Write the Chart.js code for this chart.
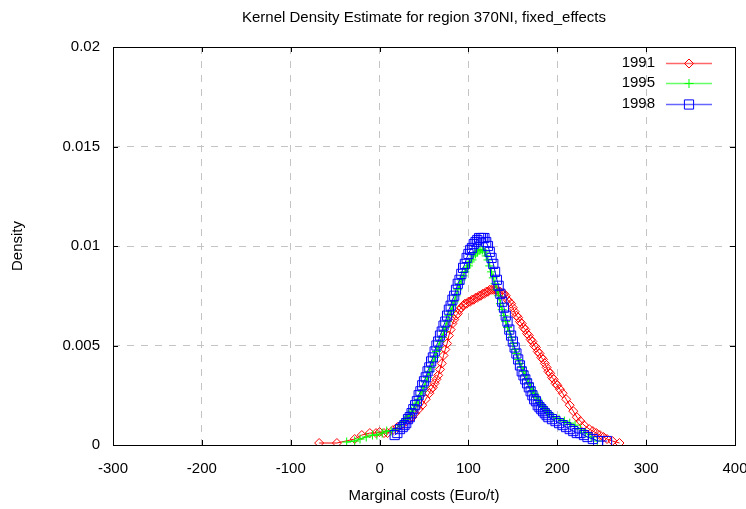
<!DOCTYPE html>
<html>
<head>
<meta charset="utf-8">
<script src="https://cdn.jsdelivr.net/npm/chart.js@4.4.1/dist/chart.umd.min.js"></script>
<style>
  html, body { margin: 0; padding: 0; background: #fff; }
  #wrap { width: 746px; height: 509px; }
</style>
</head>
<body>
<div id="wrap"><canvas id="kde"></canvas></div>
<script>
// KDE values
const years = ["1991", "1995", "1998"];

const x1991 = [-68, -48, -28, -20, -11, -4, 0, 5, 9, 15, 20, 25, 30, 34, 37, 40, 44, 48, 52, 56,
  58, 60, 62, 64, 66, 68, 70, 72, 74, 76, 78, 80, 82, 84, 86, 88, 90, 92, 94, 96,
  98, 100, 102, 104, 106, 108, 110, 112, 114, 116, 118, 120, 122, 124, 126, 128, 130, 132, 134, 136,
  138, 140, 142, 144, 146, 148, 150, 152, 154, 156, 158, 160, 162, 164, 166, 168, 170, 172, 174, 176,
  178, 180, 182, 184, 186, 188, 190, 192, 194, 196, 198, 200, 203, 206, 210, 214, 218, 222, 226, 230,
  236, 240, 244, 248, 252, 256, 262, 270];
const y1991 = [0.0001, 0.0001, 0.0003, 0.0005, 0.0006, 0.0006, 0.00065, 0.0006, 0.0006, 0.00075,
  0.0009, 0.0010, 0.0012, 0.0013, 0.0014, 0.0016, 0.0018, 0.0020, 0.0023, 0.0026,
  0.0028, 0.0029, 0.0031, 0.0033, 0.0035, 0.0038, 0.0041, 0.0045, 0.0048, 0.0051,
  0.0055, 0.0058, 0.0061, 0.0063, 0.0065, 0.0066, 0.0068, 0.0069, 0.0070, 0.0071,
  0.0071, 0.0072, 0.0072, 0.0073, 0.0073, 0.0074, 0.0074, 0.0075, 0.0075, 0.0076,
  0.0076, 0.0077, 0.0077, 0.0078, 0.0078, 0.0078, 0.0078, 0.0078, 0.0077, 0.0077,
  0.0076, 0.0076, 0.0075, 0.0073, 0.0072, 0.0071, 0.0069, 0.0067, 0.0065, 0.0064,
  0.0062, 0.0061, 0.0059, 0.0058, 0.0056, 0.0055, 0.0053, 0.0052, 0.0050, 0.0049,
  0.0047, 0.0046, 0.0044, 0.0043, 0.0041, 0.0039, 0.0037, 0.0036, 0.0034, 0.0033,
  0.0031, 0.0030, 0.0028, 0.0026, 0.0023, 0.0020, 0.0017, 0.0014, 0.0012, 0.0010,
  0.0008, 0.0007, 0.0006, 0.0005, 0.0004, 0.0003, 0.0002, 0.0001];

const x1995 = [-37, -28, -22, -15, -8, -3, 3, 8, 13, 18, 23, 28, 30, 32, 34, 36, 38, 40, 42, 44,
  46, 48, 50, 52, 54, 56, 58, 60, 62, 64, 66, 68, 70, 72, 74, 76, 78, 80, 82, 84,
  86, 88, 90, 92, 94, 96, 98, 100, 102, 104, 106, 108, 110, 112, 114, 116, 118, 120, 122, 124,
  126, 128, 130, 132, 134, 136, 138, 140, 142, 144, 146, 148, 150, 152, 154, 156, 158, 160, 162, 164,
  166, 168, 170, 172, 174, 176, 178, 180, 182, 184, 186, 188, 190, 196, 202, 208, 214, 220, 226, 232,
  238, 245];
const y1995 = [0.00015, 0.0002, 0.0003, 0.0004, 0.0005, 0.0005, 0.0006, 0.0007, 0.0007, 0.0008,
  0.0010, 0.0012, 0.0013, 0.0014, 0.0015, 0.0017, 0.0018, 0.0020, 0.0021, 0.0023,
  0.0025, 0.0027, 0.0029, 0.0032, 0.0034, 0.0037, 0.0039, 0.0042, 0.0044, 0.0047,
  0.0049, 0.0052, 0.0054, 0.0057, 0.0059, 0.0062, 0.0065, 0.0067, 0.0070, 0.0072,
  0.0075, 0.0078, 0.0081, 0.0083, 0.0085, 0.0087, 0.0089, 0.0090, 0.0092, 0.0093,
  0.0095, 0.0096, 0.0097, 0.0098, 0.0098, 0.0098, 0.0097, 0.0095, 0.0093, 0.0090,
  0.0087, 0.0084, 0.0081, 0.0078, 0.0075, 0.0071, 0.0068, 0.0065, 0.0062, 0.0059,
  0.0057, 0.0054, 0.0051, 0.0048, 0.0046, 0.0043, 0.0041, 0.0039, 0.0037, 0.0035,
  0.0033, 0.0031, 0.0029, 0.0027, 0.0026, 0.0024, 0.0023, 0.0021, 0.0020, 0.0019,
  0.0018, 0.0017, 0.0016, 0.0014, 0.0013, 0.0012, 0.0011, 0.0010, 0.0008, 0.0006,
  0.0004, 0.0002];

const x1998 = [17, 20, 23, 26, 28, 30, 32, 34, 36, 38, 40, 42, 44, 46, 48, 50, 52, 54, 56, 58,
  60, 62, 64, 66, 68, 70, 72, 74, 76, 78, 80, 82, 84, 86, 88, 90, 92, 94, 96, 98,
  100, 102, 104, 106, 108, 110, 112, 114, 116, 118, 120, 122, 124, 126, 128, 130, 132, 134, 136, 138,
  140, 142, 144, 146, 148, 150, 152, 154, 156, 158, 160, 162, 164, 166, 168, 170, 172, 174, 176, 178,
  180, 182, 184, 186, 188, 190, 194, 198, 202, 206, 210, 214, 218, 222, 226, 230, 234, 240, 246, 256];
const y1998 = [0.0005, 0.0006, 0.0008, 0.0009, 0.0010, 0.0011, 0.0013, 0.0014, 0.0016, 0.0018,
  0.0020, 0.0022, 0.0025, 0.0027, 0.0030, 0.0032, 0.0034, 0.0037, 0.0039, 0.0042,
  0.0044, 0.0047, 0.0050, 0.0052, 0.0055, 0.0057, 0.0060, 0.0062, 0.0065, 0.0068,
  0.0070, 0.0073, 0.0075, 0.0078, 0.0081, 0.0083, 0.0086, 0.0089, 0.0091, 0.0094,
  0.0096, 0.0098, 0.0099, 0.0101, 0.0102, 0.0103, 0.0104, 0.0104, 0.0104, 0.0104,
  0.0102, 0.0100, 0.0097, 0.0094, 0.0091, 0.0087, 0.0083, 0.0080, 0.0076, 0.0072,
  0.0069, 0.0065, 0.0062, 0.0058, 0.0055, 0.0052, 0.0049, 0.0046, 0.0043, 0.0040,
  0.0037, 0.0035, 0.0033, 0.0031, 0.0029, 0.0027, 0.0025, 0.0023, 0.0022, 0.0020,
  0.0019, 0.0018, 0.0017, 0.0016, 0.0015, 0.0014, 0.0013, 0.0012, 0.0011, 0.0010,
  0.0009, 0.0008, 0.0007, 0.0006, 0.0006, 0.0005, 0.0004, 0.0003, 0.0002, 0.0002];

const xTicks = [-300, -200, -100, 0, 100, 200, 300, 400];
const yTicks = [0, 0.005, 0.01, 0.015, 0.02];

const FONT = "'Liberation Sans', Arial, sans-serif";

function pts(xs, ys) {
  return xs.map((x, i) => ({ x: x, y: ys[i] }));
}

const series = [
  { label: years[0], data: pts(x1991, y1991), color: "#ff0000", style: "rectRot", r: 4.5, order: 2 },
  { label: years[1], data: pts(x1995, y1995), color: "#00ff00", style: "cross", r: 4.5, order: 1 },
  { label: years[2], data: pts(x1998, y1998), color: "#0000ff", style: "rect", r: 6.5, order: 0 },
];

// frame, inward ticks, title, axis labels and key
const decorations = {
  id: "decorations",
  afterDraw(chart) {
    const ctx = chart.ctx;
    const a = chart.chartArea;
    const xs = chart.scales.x, ys = chart.scales.y;
    ctx.save();
    ctx.strokeStyle = "#000";
    ctx.lineWidth = 1;
    ctx.beginPath();
    xTicks.forEach((t) => {
      const px = Math.round(xs.getPixelForValue(t)) + 0.5;
      ctx.moveTo(px, a.bottom); ctx.lineTo(px, a.bottom - 5);
      ctx.moveTo(px, a.top); ctx.lineTo(px, a.top + 5);
    });
    yTicks.forEach((t) => {
      const py = Math.round(ys.getPixelForValue(t)) + 0.5;
      ctx.moveTo(a.left, py); ctx.lineTo(a.left + 5, py);
      ctx.moveTo(a.right, py); ctx.lineTo(a.right - 5, py);
    });
    ctx.stroke();
    ctx.strokeRect(Math.round(a.left) + 0.5, Math.round(a.top) + 0.5,
      Math.round(a.right - a.left), Math.round(a.bottom - a.top));

    ctx.fillStyle = "#000";
    ctx.font = "15px " + FONT;
    ctx.textAlign = "center";
    ctx.textBaseline = "middle";
    const cx = (a.left + a.right) / 2;
    ctx.fillText("Kernel Density Estimate for region 370NI, fixed_effects", cx, 18);
    ctx.fillText("Marginal costs (Euro/t)", cx, 496);
    ctx.save();
    ctx.translate(18, (a.top + a.bottom) / 2);
    ctx.rotate(-Math.PI / 2);
    ctx.fillText("Density", 0, 0);
    ctx.restore();

    // key
    const keyY = [63, 83, 104];
    series.forEach((s, i) => {
      const y = keyY[i];
      ctx.textAlign = "right";
      ctx.fillStyle = "#000";
      ctx.fillText(s.label, 655, y);
      ctx.strokeStyle = s.color;
      ctx.globalAlpha = 0.6;
      ctx.lineWidth = 1.5;
      ctx.beginPath();
      ctx.moveTo(666, y + 0.5); ctx.lineTo(712, y + 0.5);
      ctx.stroke();
      ctx.globalAlpha = 1;
      ctx.lineWidth = 1;
      ctx.fillStyle = "rgba(0,0,0,0)";
      Chart.helpers.drawPoint(ctx, { pointStyle: s.style, radius: s.r, borderWidth: 1 }, 689, y + 0.5);
    });
    ctx.restore();
  },
};

new Chart(document.getElementById("kde"), {
  type: "scatter",
  data: {
    datasets: series.map((s) => ({
      label: s.label,
      data: s.data,
      showLine: true,
      borderColor: s.color,
      borderWidth: 1,
      backgroundColor: "rgba(0,0,0,0)",
      pointStyle: s.style,
      pointRadius: s.r,
      pointBorderWidth: 1,
      pointBorderColor: s.color,
      pointBackgroundColor: "rgba(0,0,0,0)",
      order: s.order,
    })),
  },
  options: {
    responsive: true,
    maintainAspectRatio: false,
    animation: false,
    events: [],
    layout: { padding: { left: 0, right: 11, top: 47, bottom: 0 } },
    plugins: { legend: { display: false }, tooltip: { enabled: false }, title: { display: false } },
    scales: {
      x: {
        type: "linear",
        min: -300,
        max: 400,
        afterBuildTicks: (s) => { s.ticks = xTicks.map((v) => ({ value: v })); },
        afterFit: (s) => { s.height = 64; s.paddingLeft = 0; s.paddingRight = 0; },
        grid: { color: "#c4c4c4", drawTicks: false },
        border: { display: false, dash: [7, 7] },
        ticks: { color: "#000", font: { family: FONT, size: 15 }, padding: 15, maxRotation: 0,
          callback: (v) => String(v) },
      },
      y: {
        type: "linear",
        min: 0,
        max: 0.02,
        afterBuildTicks: (s) => { s.ticks = yTicks.map((v) => ({ value: v })); },
        afterFit: (s) => { s.width = 113; s.paddingTop = 0; s.paddingBottom = 0; },
        grid: { color: "#c4c4c4", drawTicks: false },
        border: { display: false, dash: [7, 7] },
        ticks: { color: "#000", font: { family: FONT, size: 15 }, padding: 13,
          callback: (v) => String(+v.toFixed(3)) },
      },
    },
  },
  plugins: [decorations],
});
</script>
</body>
</html>
